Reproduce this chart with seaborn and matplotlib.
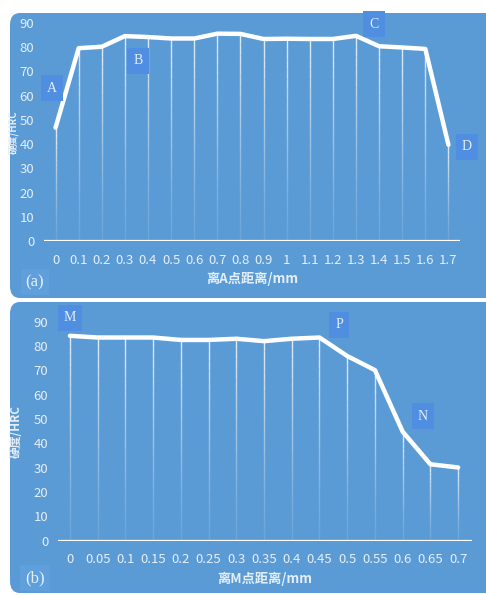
import matplotlib
matplotlib.use("Agg")
import matplotlib.pyplot as plt
from matplotlib.patches import FancyBboxPatch
import numpy as np
import seaborn as sns

# hardness profile (a): distance from point A
dist_a = ["0", "0.1", "0.2", "0.3", "0.4", "0.5", "0.6", "0.7", "0.8", "0.9",
          "1", "1.1", "1.2", "1.3", "1.4", "1.5", "1.6", "1.7"]
hrc_a = [46.8, 79.6, 80.2, 84.6, 84.2, 83.6, 83.6, 85.6, 85.5, 83.4,
         83.5, 83.4, 83.4, 84.7, 80.4, 79.9, 79.3, 39.7]

# hardness profile (b): distance from point M
dist_b = ["0", "0.05", "0.1", "0.15", "0.2", "0.25", "0.3", "0.35", "0.4",
          "0.45", "0.5", "0.55", "0.6", "0.65", "0.7"]
hrc_b = [84.2, 83.5, 83.5, 83.5, 82.5, 82.5, 83.0, 82.0, 83.0, 83.5,
         75.9, 70.1, 44.8, 31.4, 30.1]

sns.set_style("white")
plt.rcParams['font.family'] = ['Noto Sans CJK SC', 'DejaVu Sans']

W, H = 486, 596
BG = "#5b9bd5"
BOX = "#4f8ee0"
TXT = "#e4eef8"

fig = plt.figure(figsize=(W / 100, H / 100), dpi=100)
fig.patch.set_facecolor("white")


def fx(px):
    return px / W


def fy(py):
    return 1 - py / H


# panel backgrounds
for top, bot in [(13, 298), (302, 593)]:
    fig.patches.append(FancyBboxPatch((fx(10), fy(bot)), fx(500) - fx(10), fy(top) - fy(bot),
                                      boxstyle="round,pad=0,rounding_size=0.02",
                                      transform=fig.transFigure, facecolor=BG,
                                      edgecolor="none", zorder=-5))


def panel(rect, cats, vals, xlabel, pad_left, ylab_x, ylab_size):
    ax = fig.add_axes(rect)
    ax.set_facecolor("none")
    ax.set_zorder(2)
    n = len(cats)
    xs = np.arange(n)
    # fading drop lines
    for i, v in enumerate(vals):
        segs = 20
        for k in range(segs):
            y0 = v * k / segs
            y1 = v * (k + 1) / segs
            ax.plot([i, i], [y0, y1], color="white", lw=1.0,
                    alpha=0.1 + 0.75 * (k / segs) ** 1.2, solid_capstyle="butt")
    sns.lineplot(x=xs, y=vals, color="white", lw=3.2, ax=ax, zorder=5)
    ax.axhline(0, color="white", lw=1.6, zorder=4)
    ax.set_xlim(-pad_left, n - 1 + 0.5)
    ax.set_ylim(0, 90)
    ax.set_yticks(range(0, 91, 10))
    ax.set_xticks(xs)
    ax.set_xticklabels(cats)
    for s in ax.spines.values():
        s.set_visible(False)
    ax.tick_params(axis="both", length=0, colors=TXT, labelsize=9.5)
    ax.tick_params(axis="x", pad=9)
    ax.tick_params(axis="y", pad=7)
    ax.set_xlabel(xlabel, color=TXT, fontsize=9.5, fontweight="bold", labelpad=4)
    ax.set_ylabel("硬度/HRC", color=TXT, fontsize=ylab_size, fontweight="bold")
    ax.yaxis.set_label_coords(ylab_x, 0.5)
    ax.grid(False)
    return ax


ax1 = panel([fx(44), fy(241), fx(460) - fx(44), fy(23) - fy(241)],
            dist_a, hrc_a, "离A点距离/mm", 0.5, -0.061, 7)
ax2 = panel([fx(58), fy(540.7), fx(472) - fx(58), fy(321.7) - fy(540.7)],
            dist_b, hrc_b, "离M点距离/mm", 0.43, -0.085, 8.5)

# point markers
marks = [("A", 52, 88), ("B", 138, 61), ("C", 374, 24), ("D", 467, 147),
         ("M", 70, 318), ("P", 339, 325), ("N", 423, 416)]
for t, px, py in marks:
    fig.text(fx(px), fy(py), t, ha="center", va="center", color=TXT,
             fontsize=10, family=["Liberation Serif", "DejaVu Serif"], zorder=10,
             bbox=dict(boxstyle="square,pad=0.45", facecolor=BOX, edgecolor="none"))

for t, px, py in [("(a)", 35, 282), ("(b)", 35, 578)]:
    fig.text(fx(px), fy(py), t, ha="center", va="center", color=TXT,
             fontsize=12, family=["Liberation Serif", "DejaVu Serif"], zorder=10,
             bbox=dict(boxstyle="square,pad=0.3", facecolor="#5fa0dc", edgecolor="none"))

fig.savefig("out.png", dpi=100)
